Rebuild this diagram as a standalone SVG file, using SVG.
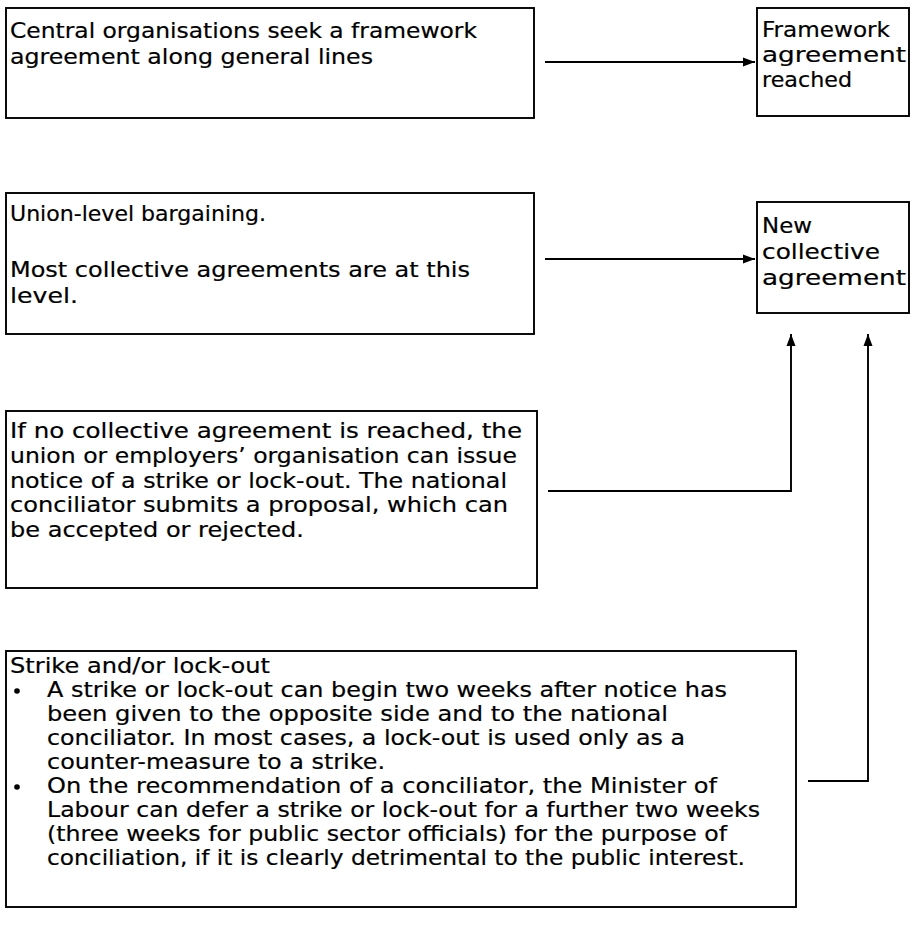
<svg xmlns="http://www.w3.org/2000/svg" width="912" height="925" viewBox="0 0 912 925">
<style>
.box{fill:#fff;stroke:#000;stroke-width:1.9}
.t{font-family:"DejaVu Sans",sans-serif;font-size:21px;fill:#000;stroke:#000;stroke-width:0.2}
.c{fill:none;stroke:#000;stroke-width:1.9}
</style>
<defs>
<marker id="ah" viewBox="0 0 12 10" refX="12" refY="5" markerWidth="12" markerHeight="10" markerUnits="userSpaceOnUse" orient="auto">
<path d="M0,0.5 L12,5 L0,9.5 Z" fill="#000"/>
</marker>
</defs>
<rect width="912" height="925" fill="#fff"/>
<g id="n1">
<rect class="box" x="6" y="8" width="528" height="110"/>
<text class="t" x="10" y="38" textLength="467" lengthAdjust="spacingAndGlyphs">Central organisations seek a framework</text>
<text class="t" x="10" y="64" textLength="363" lengthAdjust="spacingAndGlyphs">agreement along general lines</text>
</g>
<g id="n2">
<rect class="box" x="757" y="8" width="152" height="108"/>
<text class="t" x="762" y="37" textLength="128" lengthAdjust="spacingAndGlyphs">Framework</text>
<text class="t" x="762" y="62" textLength="144" lengthAdjust="spacingAndGlyphs">agreement</text>
<text class="t" x="762" y="87" textLength="90" lengthAdjust="spacingAndGlyphs">reached</text>
</g>
<g id="n3">
<rect class="box" x="6" y="193" width="528" height="141"/>
<text class="t" x="10" y="221" textLength="256" lengthAdjust="spacingAndGlyphs">Union-level bargaining.</text>
<text class="t" x="10" y="277" textLength="460" lengthAdjust="spacingAndGlyphs">Most collective agreements are at this</text>
<text class="t" x="10" y="303" textLength="68" lengthAdjust="spacingAndGlyphs">level.</text>
</g>
<g id="n4">
<rect class="box" x="757" y="202" width="152" height="111"/>
<text class="t" x="762" y="233" textLength="50" lengthAdjust="spacingAndGlyphs">New</text>
<text class="t" x="762" y="259" textLength="118" lengthAdjust="spacingAndGlyphs">collective</text>
<text class="t" x="762" y="285" textLength="144" lengthAdjust="spacingAndGlyphs">agreement</text>
</g>
<g id="n5">
<rect class="box" x="6" y="411" width="531" height="177"/>
<text class="t" x="10" y="438" textLength="512" lengthAdjust="spacingAndGlyphs">If no collective agreement is reached, the</text>
<text class="t" x="10" y="463" textLength="507" lengthAdjust="spacingAndGlyphs">union or employers’ organisation can issue</text>
<text class="t" x="10" y="488" textLength="497" lengthAdjust="spacingAndGlyphs">notice of a strike or lock-out. The national</text>
<text class="t" x="10" y="512" textLength="498" lengthAdjust="spacingAndGlyphs">conciliator submits a proposal, which can</text>
<text class="t" x="10" y="537" textLength="294" lengthAdjust="spacingAndGlyphs">be accepted or rejected.</text>
</g>
<g id="n6">
<rect class="box" x="6" y="651" width="790" height="256"/>
<text class="t" x="10" y="673" textLength="260" lengthAdjust="spacingAndGlyphs">Strike and/or lock-out</text>
<circle cx="17" cy="691" r="2.8" fill="#000"/>
<circle cx="17" cy="787" r="2.8" fill="#000"/>
<text class="t" x="47" y="697" textLength="680" lengthAdjust="spacingAndGlyphs">A strike or lock-out can begin two weeks after notice has</text>
<text class="t" x="47" y="721" textLength="621" lengthAdjust="spacingAndGlyphs">been given to the opposite side and to the national</text>
<text class="t" x="47" y="745" textLength="638" lengthAdjust="spacingAndGlyphs">conciliator. In most cases, a lock-out is used only as a</text>
<text class="t" x="47" y="769" textLength="338" lengthAdjust="spacingAndGlyphs">counter-measure to a strike.</text>
<text class="t" x="47" y="793" textLength="670" lengthAdjust="spacingAndGlyphs">On the recommendation of a conciliator, the Minister of</text>
<text class="t" x="47" y="817" textLength="713" lengthAdjust="spacingAndGlyphs">Labour can defer a strike or lock-out for a further two weeks</text>
<text class="t" x="47" y="841" textLength="680" lengthAdjust="spacingAndGlyphs">(three weeks for public sector officials) for the purpose of</text>
<text class="t" x="47" y="865" textLength="698" lengthAdjust="spacingAndGlyphs">conciliation, if it is clearly detrimental to the public interest.</text>
</g>
<g id="connectors">
<path class="c" d="M545,62 H755" marker-end="url(#ah)"/>
<path class="c" d="M545,259 H755" marker-end="url(#ah)"/>
<path class="c" d="M548,491 H791 V334" marker-end="url(#ah)"/>
<path class="c" d="M808,781 H868 V334" marker-end="url(#ah)"/>
</g>
</svg>
